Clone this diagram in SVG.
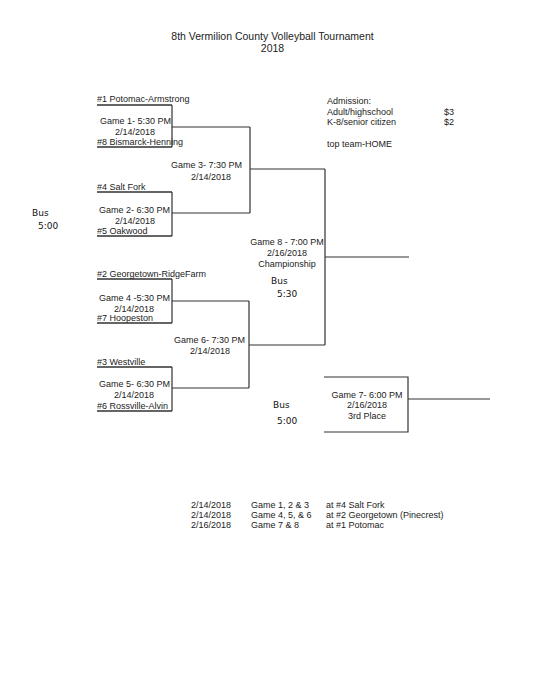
<svg xmlns="http://www.w3.org/2000/svg" width="541" height="700" viewBox="0 0 541 700" xml:space="preserve">
<style>
text{font-family:"Liberation Sans",Arial,sans-serif;font-size:9px;fill:#222}
.title{font-size:10.5px;text-anchor:middle}
.e{text-anchor:end}
.m{text-anchor:middle}
.hand{font-family:"DejaVu Sans",sans-serif;font-size:9px;fill:#111}
.ln{stroke:#333;stroke-width:1.2;fill:none}
.ul{stroke:#333;stroke-width:1.5;fill:none}
</style>
<rect width="541" height="700" fill="#fff"/>
<g id="title">
<text class="title" x="272.5" y="39.5">8th Vermilion County Volleyball Tournament</text>
<text class="title" x="272.5" y="52">2018</text>
</g>
<g id="admission">
<text x="327" y="103.5">Admission:</text>
<text x="327" y="114.5">Adult/highschool</text>
<text x="327" y="124.5">K-8/senior citizen</text>
<text x="444" y="114.5">$3</text>
<text x="444" y="124.5">$2</text>
<text x="327" y="146.5">top team-HOME</text>
</g>
<g id="connectors">
<path class="ul" d="M97 105H172M97 147H172M97 192H172M97 236H172M97 279H172M97 323H172M97 367H172M97 411H172"/>
<path class="ln" d="M172 105V147M172 192V236M172 279V323M172 367V411"/>
<path class="ln" d="M172 127H250M172 213H250M172 301H249M172 388H249"/>
<path class="ln" d="M250 127V213M249 301V388"/>
<path class="ln" d="M250 169H325M249 345H325M325 169V345M325 257H409"/>
<path class="ln" d="M324 377H408V432H324M408 399H490"/>
</g>
<g id="team1"><text x="97" y="102">#1 Potomac-Armstrong</text></g>
<g id="team8"><text x="97" y="144.5">#8  Bismarck-Henning</text></g>
<g id="game1"><text class="e" x="171" y="123.5">Game 1- 5:30 PM</text><text class="m" x="135" y="134.5">2/14/2018</text></g>
<g id="team4"><text x="97" y="189.5">#4 Salt Fork</text></g>
<g id="team5"><text x="97" y="233.5">#5  Oakwood</text></g>
<g id="game2"><text class="e" x="170" y="212.5">Game 2- 6:30 PM</text><text class="m" x="135" y="223.5">2/14/2018</text></g>
<g id="game3"><text class="e" x="242" y="168">Game 3- 7:30 PM</text><text class="m" x="211" y="179.5">2/14/2018</text></g>
<g id="team2"><text x="97" y="276.5">#2  Georgetown-RidgeFarm</text></g>
<g id="team7"><text x="97" y="320.5">#7  Hoopeston</text></g>
<g id="game4"><text class="e" x="170" y="300.5">Game 4 -5:30 PM</text><text class="m" x="134" y="311.5">2/14/2018</text></g>
<g id="team3"><text x="97" y="364.5">#3  Westville</text></g>
<g id="team6"><text x="97" y="408.5">#6  Rossville-Alvin</text></g>
<g id="game5"><text class="e" x="170" y="386.5">Game 5- 6:30 PM</text><text class="m" x="134" y="397.5">2/14/2018</text></g>
<g id="game6"><text class="e" x="245" y="342.5">Game 6- 7:30 PM</text><text class="m" x="210" y="353.5">2/14/2018</text></g>
<g id="game8"><text class="m" x="287" y="244.5">Game 8 - 7:00 PM</text><text class="m" x="287" y="255.5">2/16/2018</text><text class="m" x="287" y="266.5">Championship</text></g>
<g id="game7"><text class="m" x="367" y="397.5">Game 7- 6:00 PM</text><text class="m" x="367" y="408">2/16/2018</text><text class="m" x="367" y="419">3rd Place</text></g>
<g id="notes">
<text class="hand" x="32" y="216">Bus</text><text class="hand" x="38" y="228.5">5:00</text>
<text class="hand" x="271" y="283.5">Bus</text><text class="hand" x="277" y="296.5">5:30</text>
<text class="hand" x="273" y="407.5">Bus</text><text class="hand" x="277" y="423.5">5:00</text>
</g>
<g id="schedule">
<text x="191" y="507.5">2/14/2018</text><text x="251" y="507.5">Game 1, 2 &amp; 3</text><text x="326" y="507.5">at #4 Salt Fork</text>
<text x="191" y="517.5">2/14/2018</text><text x="251" y="517.5">Game 4, 5, &amp; 6</text><text x="326" y="517.5">at #2 Georgetown (Pinecrest)</text>
<text x="191" y="527.5">2/16/2018</text><text x="251" y="527.5">Game 7 &amp; 8</text><text x="326" y="527.5">at #1 Potomac</text>
</g>
</svg>
